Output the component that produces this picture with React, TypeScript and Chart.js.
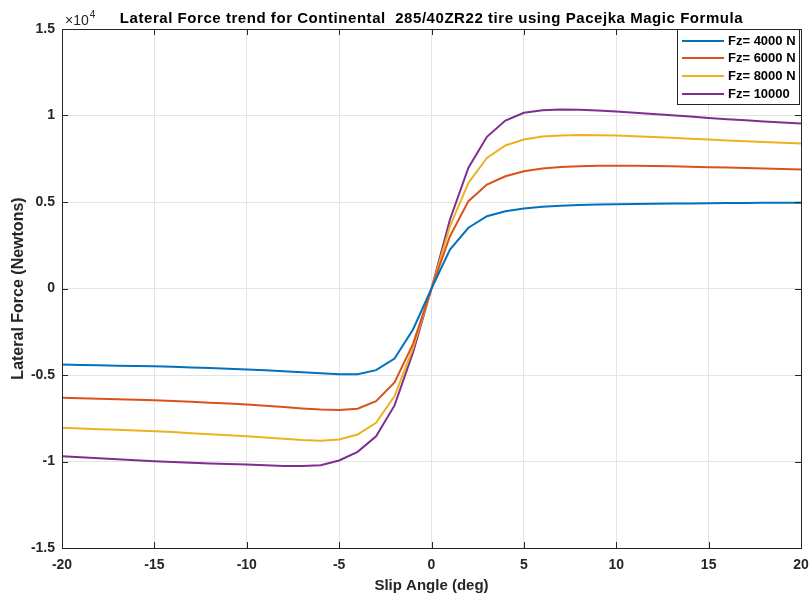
import React, { useEffect, useRef } from "react";
import { Chart, registerables } from "chart.js";

Chart.register(...registerables);

const slipAngles: number[] = Array.from({ length: 41 }, (_, i) => i - 20);

// Lateral force in Newtons, slip angle -20..20 deg (1 deg step)
const fz4000: number[] = [
  -4400, -4420, -4440, -4460, -4480, -4500, -4530, -4560, -4600, -4640,
  -4680, -4730, -4780, -4840, -4900, -4950, -4960, -4720, -4050, -2370,
  0,
  2250, 3510, 4180, 4470, 4620, 4720, 4780, 4820, 4850, 4870,
  4890, 4900, 4910, 4920, 4930, 4940, 4940, 4950, 4950, 4960,
];
const fz6000: number[] = [
  -6320, -6350, -6370, -6400, -6430, -6460, -6500, -6550, -6600, -6650,
  -6710, -6780, -6850, -6930, -7000, -7030, -6950, -6510, -5430, -3200,
  0,
  3020, 5050, 6010, 6490, 6780, 6940, 7020, 7070, 7090, 7100,
  7090, 7080, 7060, 7040, 7010, 6990, 6960, 6930, 6910, 6880,
];
const fz8000: number[] = [
  -8050, -8090, -8130, -8170, -8210, -8250, -8300, -8360, -8420, -8480,
  -8540, -8610, -8680, -8760, -8800, -8730, -8440, -7760, -6220, -3450,
  0,
  3600, 6110, 7550, 8270, 8610, 8780, 8850, 8870, 8860, 8840,
  8800, 8760, 8710, 8660, 8610, 8560, 8510, 8470, 8420, 8380,
];
const fz10000: number[] = [
  -9690, -9750, -9810, -9870, -9930, -9980, -10030, -10070, -10110, -10140,
  -10170, -10220, -10260, -10260, -10210, -9940, -9440, -8540, -6760, -3700,
  0,
  3990, 6980, 8770, 9710, 10160, 10310, 10350, 10330, 10290, 10230,
  10160, 10090, 10020, 9940, 9860, 9790, 9720, 9660, 9600, 9540,
];

const seriesLabels: string[] = ["Fz= 4000 N", "Fz= 6000 N", "Fz= 8000 N", "Fz= 10000"];
const seriesColors: string[] = ["#0072BD", "#D95319", "#EDB120", "#7E2F8E"];
const xTicks: number[] = [-20, -15, -10, -5, 0, 5, 10, 15, 20];
const yTicks: number[] = [-15000, -10000, -5000, 0, 5000, 10000, 15000];

const chartTitle = "Lateral Force trend for Continental  285/40ZR22 tire using Pacejka Magic Formula";
const xTitle = "Slip Angle (deg)";
const yTitle = "Lateral Force (Newtons)";

const FONT = "'Liberation Sans', Arial, Helvetica, sans-serif";
const AXIS_COLOR = "#262626";

const decorPlugin = {
  id: "decor",
  afterDraw(chart: any) {
    const ctx = chart.ctx as CanvasRenderingContext2D;
    const { left, right, top, bottom } = chart.chartArea;
    const xs = chart.scales.x;
    const ys = chart.scales.y;
    ctx.save();
    // box
    ctx.strokeStyle = AXIS_COLOR;
    ctx.lineWidth = 1;
    ctx.strokeRect(Math.round(left) + 0.5, Math.round(top) + 0.5, Math.round(right - left), Math.round(bottom - top));
    // inner ticks
    const tl = 6;
    ctx.beginPath();
    xTicks.forEach((t) => {
      const px = Math.round(xs.getPixelForValue(t)) + 0.5;
      ctx.moveTo(px, bottom);
      ctx.lineTo(px, bottom - tl);
      ctx.moveTo(px, top);
      ctx.lineTo(px, top + tl);
    });
    yTicks.forEach((t) => {
      const py = Math.round(ys.getPixelForValue(t)) + 0.5;
      ctx.moveTo(left, py);
      ctx.lineTo(left + tl, py);
      ctx.moveTo(right, py);
      ctx.lineTo(right - tl, py);
    });
    ctx.stroke();

    // title
    ctx.fillStyle = "#000";
    ctx.font = `bold 15px ${FONT}`;
    (ctx as any).letterSpacing = "0.55px";
    ctx.textAlign = "center";
    ctx.textBaseline = "alphabetic";
    ctx.fillText(chartTitle, (left + right) / 2, 22.5);
    (ctx as any).letterSpacing = "0px";

    // exponent
    ctx.fillStyle = AXIS_COLOR;
    ctx.textAlign = "left";
    ctx.textBaseline = "alphabetic";
    ctx.font = `14px ${FONT}`;
    ctx.fillText("\u00d710", left + 3, 25);
    const w = ctx.measureText("\u00d710").width;
    ctx.font = `10px ${FONT}`;
    ctx.fillText("4", left + 3 + w + 1, 17.5);

    // x title
    ctx.fillStyle = AXIS_COLOR;
    ctx.font = `bold 15px ${FONT}`;
    ctx.textAlign = "center";
    ctx.textBaseline = "alphabetic";
    ctx.fillText(xTitle, (left + right) / 2, 590);

    // y title
    ctx.save();
    ctx.translate(23, (top + bottom) / 2);
    ctx.rotate(-Math.PI / 2);
    ctx.font = `bold 16px ${FONT}`;
    ctx.textBaseline = "alphabetic";
    ctx.fillText(yTitle, 0, 0);
    ctx.restore();

    // legend
    const lx0 = 677, ly0 = 29, lx1 = 799, ly1 = 104;
    ctx.fillStyle = "#fff";
    ctx.fillRect(lx0, ly0, lx1 - lx0, ly1 - ly0);
    ctx.strokeStyle = AXIS_COLOR;
    ctx.lineWidth = 1;
    ctx.strokeRect(lx0 + 0.5, ly0 + 0.5, lx1 - lx0, ly1 - ly0);
    const rows = [41, 58, 76, 94];
    chart.data.datasets.forEach((ds: any, i: number) => {
      const y = rows[i];
      ctx.strokeStyle = ds.borderColor;
      ctx.lineWidth = 2;
      ctx.beginPath();
      ctx.moveTo(682, y);
      ctx.lineTo(724, y);
      ctx.stroke();
      ctx.fillStyle = "#000";
      ctx.font = `bold 13px ${FONT}`;
      ctx.textAlign = "left";
      ctx.textBaseline = "middle";
      ctx.fillText(ds.label, 728, y);
    });
    ctx.restore();
  },
};

export default function App() {
  const ref = useRef<HTMLCanvasElement | null>(null);
  useEffect(() => {
    if (!ref.current) return;
    const mk = (data: number[], i: number) => ({
      label: seriesLabels[i],
      data: slipAngles.map((x, j) => ({ x, y: data[j] })),
      borderColor: seriesColors[i],
      backgroundColor: seriesColors[i],
      borderWidth: 2,
      pointRadius: 0,
      tension: 0,
      fill: false,
    });
    const chart = new Chart(ref.current, {
      type: "line",
      data: {
        datasets: [mk(fz4000, 0), mk(fz6000, 1), mk(fz8000, 2), mk(fz10000, 3)],
      },
      options: {
        animation: false,
        responsive: true,
        maintainAspectRatio: false,
        layout: { padding: { top: 29, right: 8, left: 0, bottom: 0 } },
        plugins: {
          legend: { display: false },
          tooltip: { enabled: false },
          title: { display: false },
        },
        scales: {
          x: {
            type: "linear",
            min: -20,
            max: 20,
            afterFit: (s: any) => { s.height = 48; s.paddingLeft = 0; s.paddingRight = 0; },
            afterBuildTicks: (s: any) => { s.ticks = xTicks.map((v) => ({ value: v })); },
            grid: { color: "#e4e4e4", drawTicks: false, lineWidth: 1 },
            border: { display: false },
            ticks: {
              padding: 9,
              color: AXIS_COLOR,
              font: { family: FONT, size: 14, weight: "bold" },
              maxRotation: 0,
              callback: (v: any) => String(v),
            },
          },
          y: {
            type: "linear",
            min: -15000,
            max: 15000,
            afterFit: (s: any) => { s.width = 62; s.paddingTop = 0; s.paddingBottom = 0; },
            afterBuildTicks: (s: any) => { s.ticks = yTicks.map((v) => ({ value: v })); },
            grid: { color: "#e4e4e4", drawTicks: false, lineWidth: 1 },
            border: { display: false },
            ticks: {
              padding: 7,
              color: AXIS_COLOR,
              font: { family: FONT, size: 14, weight: "bold" },
              callback: (v: any) => String(Number(v) / 10000),
            },
          },
        },
      },
      plugins: [decorPlugin],
    } as any);
    return () => chart.destroy();
  }, []);
  return (
    <div style={{ position: "absolute", left: 0, top: 0, width: 809, height: 596, background: "#fff" }}>
      <canvas ref={ref} />
    </div>
  );
}
